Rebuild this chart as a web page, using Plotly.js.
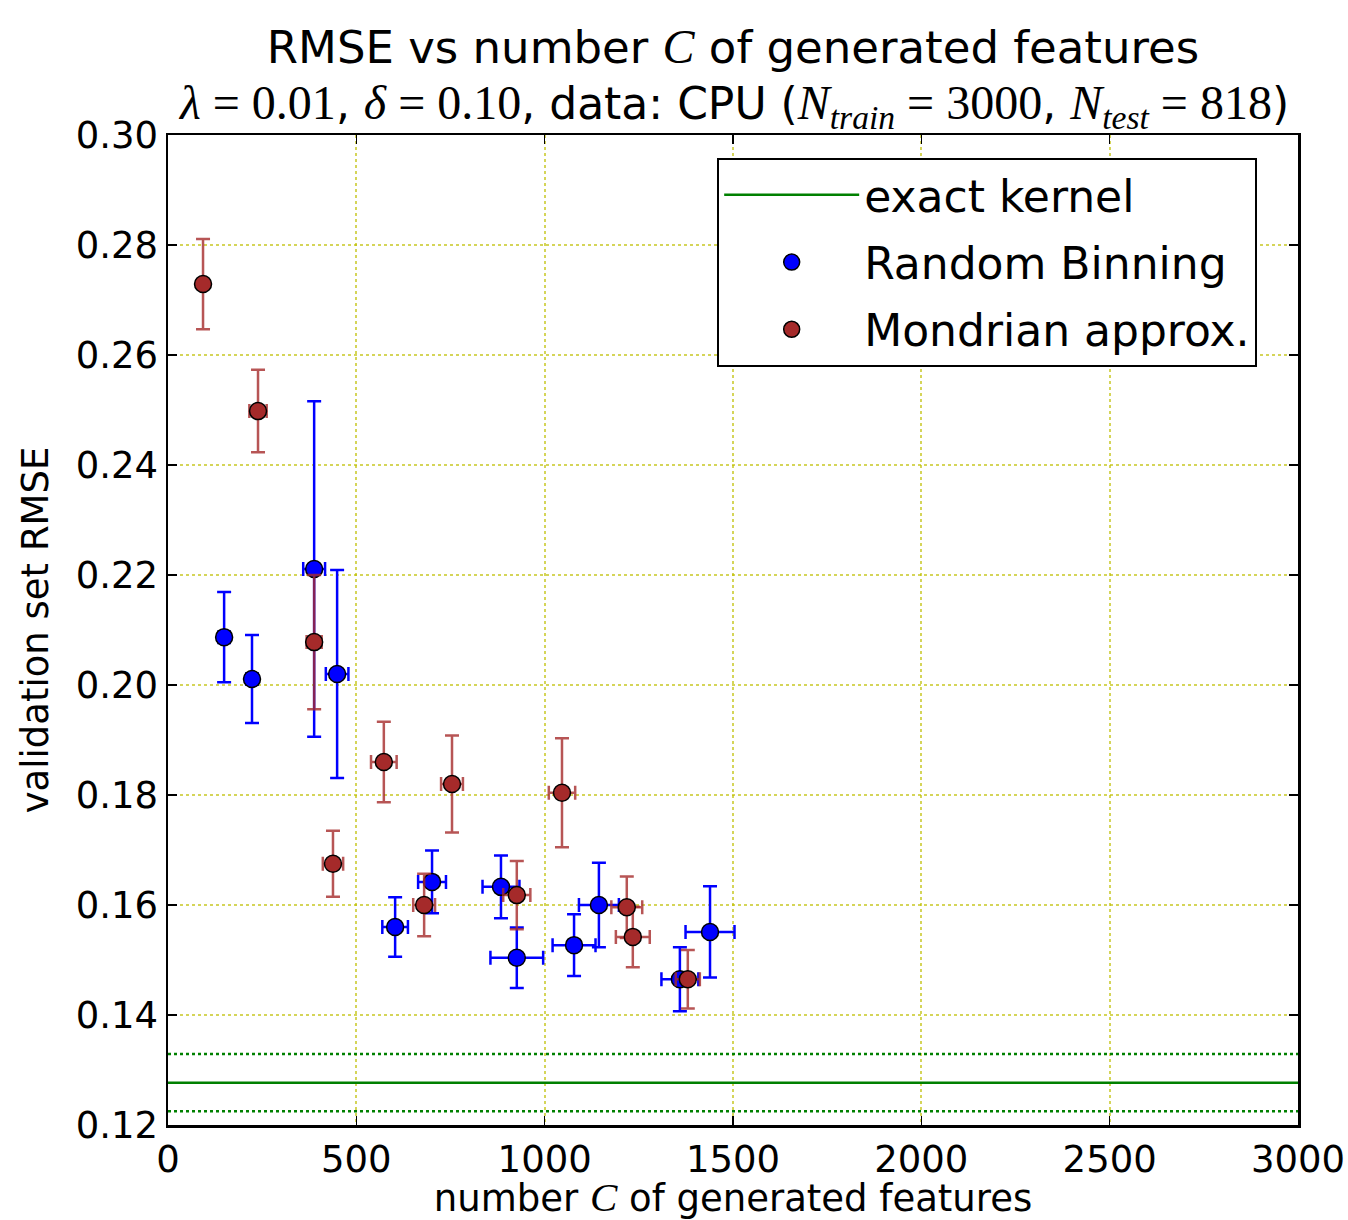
<!DOCTYPE html>
<html>
<head>
<meta charset="utf-8">
<script src="https://cdn.plot.ly/plotly-3.0.1.min.js"></script>
<style>html,body{margin:0;padding:0;background:#fff;}</style>
</head>
<body>
<div id="chart" style="width:1348px;height:1220px;"></div>
<script>
// Random Binning
const binningX    = [149, 223, 388, 449, 603, 701, 884, 926, 1078, 1144, 1359, 1439];
const binningXErr = [15, 15, 29, 30, 34, 37, 49, 70, 57, 53, 49, 65];
const binningY    = [0.2087, 0.2011, 0.2211, 0.2020, 0.1560, 0.1642, 0.1633, 0.1504, 0.1527, 0.1600, 0.1465, 0.1551];
const binningYErr = [0.0082, 0.0080, 0.0305, 0.0189, 0.0054, 0.0057, 0.0057, 0.0055, 0.0056, 0.0077, 0.0058, 0.0083];

// Mondrian approx.
const mondrianX    = [93, 239, 388, 438, 573, 680, 754, 926, 1046, 1218, 1234, 1380];
const mondrianXErr = [8, 23, 20, 27, 34, 29, 29, 36, 35, 41, 45, 32];
const mondrianY    = [0.2729, 0.2498, 0.2078, 0.1675, 0.1860, 0.1600, 0.1820, 0.1618, 0.1804, 0.1596, 0.1542, 0.1465];
const mondrianYErr = [0.0082, 0.0075, 0.0122, 0.0060, 0.0073, 0.0057, 0.0088, 0.0062, 0.0099, 0.0056, 0.0055, 0.0053];

// exact kernel
const kernelRange = [0, 3000];
const kernelValue = 0.1277;
const kernelErr = 0.0052;

const xTicks = [0, 500, 1000, 1500, 2000, 2500, 3000];
const yTicks = [0.12, 0.14, 0.16, 0.18, 0.20, 0.22, 0.24, 0.26, 0.28, 0.30];

const blue = '#0000ff';
const brown = '#a52a2a';
const green = '#008000';
const SERIF = 'Liberation Serif';
const m = (s, size) => `<span style="font-family:${SERIF}${size ? ';font-size:' + size + 'px' : ''}">${s}</span>`;
const EQ = '\u2005=\u2005';

const traces = [
  {
    x: kernelRange, y: [kernelValue, kernelValue], mode: 'lines',
    line: {color: green, width: 2.5}, name: 'exact kernel', legendgroup: 'a'
  },
  {
    x: kernelRange, y: [kernelValue + kernelErr, kernelValue + kernelErr], mode: 'lines',
    line: {color: green, width: 2.5, dash: 'dot'}, showlegend: false, legendgroup: 'a'
  },
  {
    x: kernelRange, y: [kernelValue - kernelErr, kernelValue - kernelErr], mode: 'lines',
    line: {color: green, width: 2.5, dash: 'dot'}, showlegend: false, legendgroup: 'a'
  },
  {
    x: binningX, y: binningY, mode: 'markers', name: 'Random Binning', legendgroup: 'b',
    marker: {color: blue, size: 17, line: {color: '#000', width: 1.5}},
    error_y: {type: 'data', array: binningYErr, visible: true, color: blue, thickness: 2.5, width: 7},
    error_x: {type: 'data', array: binningXErr, visible: true, color: blue, thickness: 2.5, width: 7}
  },
  {
    x: mondrianX, y: mondrianY, mode: 'markers', name: 'Mondrian approx.', legendgroup: 'c',
    marker: {color: brown, size: 17, line: {color: '#000', width: 1.5}},
    error_y: {type: 'data', array: mondrianYErr, visible: true, color: 'rgba(165,42,42,0.8)', thickness: 2.5, width: 7},
    error_x: {type: 'data', array: mondrianXErr, visible: true, color: 'rgba(165,42,42,0.8)', thickness: 2.5, width: 7}
  }
];

const axisCommon = {
  showline: true, mirror: 'ticks', linecolor: '#000', linewidth: 2.5,
  ticks: 'inside', ticklen: 9, tickwidth: 1.5, tickcolor: '#000',
  showgrid: true, gridcolor: 'rgba(190,190,0,0.65)', gridwidth: 2, griddash: 'dot',
  zeroline: false, tickfont: {family: 'DejaVu Sans', size: 37, color: '#000'}
};

const layout = {
  width: 1348, height: 1220,
  margin: {l: 168, r: 50, t: 135, b: 95},
  paper_bgcolor: '#fff', plot_bgcolor: '#fff',
  font: {family: 'DejaVu Sans', color: '#000'},
  title: {
    text: 'RMSE vs number ' + m('<i>C</i>', 48) + ' of generated features',
    font: {family: 'DejaVu Sans', size: 45, color: '#000'},
    x: 0.5, xanchor: 'center', xref: 'paper',
    y: 0.961, yanchor: 'middle', yref: 'container'
  },
  annotations: [{
    text: m('<i>λ</i>' + EQ + '0.01', 48) + ', ' + m('<i>δ</i>' + EQ + '0.10', 48) + ', data: CPU (' +
          m('<i>N</i><sub><i>train</i></sub>' + EQ + '3000', 48) + ', ' +
          m('<i>N</i><sub><i>test</i></sub>' + EQ + '818', 48) + ')',
    xref: 'paper', yref: 'paper', x: 0.5, y: 1.029, xanchor: 'center', yanchor: 'middle',
    showarrow: false, font: {family: 'DejaVu Sans', size: 44, color: '#000'}
  }],
  xaxis: Object.assign({}, axisCommon, {
    range: kernelRange, tickvals: xTicks, ticktext: xTicks.map(String),
    title: {text: 'number ' + m('<i>C</i>', 41) + ' of generated features', font: {family: 'DejaVu Sans', size: 37, color: '#000'}, standoff: 10}
  }),
  yaxis: Object.assign({}, axisCommon, {
    range: [0.12, 0.30], tickvals: yTicks, ticktext: yTicks.map(v => v.toFixed(2)),
    title: {text: 'validation set RMSE', font: {family: 'DejaVu Sans', size: 37, color: '#000'}, standoff: 16}
  }),
  legend: {
    x: 0.486, y: 0.977, xanchor: 'left', yanchor: 'top',
    bgcolor: '#fff', bordercolor: '#000', borderwidth: 2,
    font: {family: 'DejaVu Sans', size: 44, color: '#000'},
    itemwidth: 135, tracegroupgap: 7, traceorder: 'grouped'
  },
  showlegend: true
};

Plotly.newPlot('chart', traces, layout, {staticPlot: true, displayModeBar: false});
</script>
</body>
</html>
